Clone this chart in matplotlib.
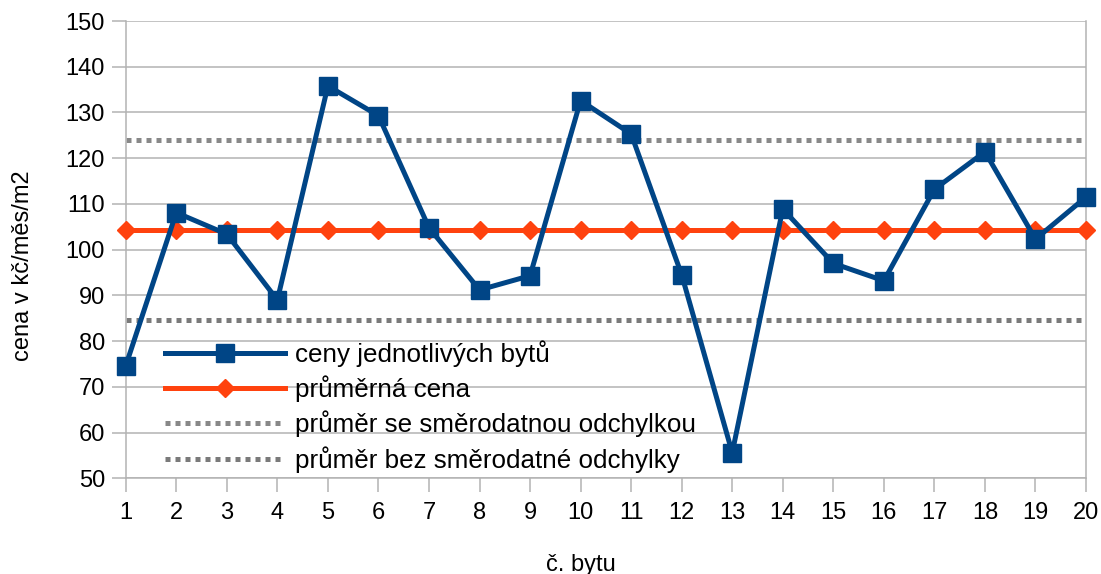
import matplotlib.pyplot as plt
from matplotlib.lines import Line2D

plt.rcParams["font.family"] = ["Liberation Sans", "DejaVu Sans"]

byty = list(range(1, 21))
ceny = [74.6, 108.1, 103.4, 89.0, 135.8, 129.3, 104.8, 91.2, 94.3, 132.6,
        125.3, 94.5, 55.6, 108.9, 97.0, 93.2, 113.2, 121.4, 102.3, 111.5]
prumer = 104.3
prumer_plus = 124.0
prumer_minus = 84.6

modra = "#004586"
oranzova = "#ff420e"
seda = "#888888"
seda_tmava = "#7a7a7a"
mrizka = "#b3b3b3"


def vykresli():
    fig = plt.figure(figsize=(11.01, 5.74), dpi=100)
    ax = fig.add_axes([0.1142, 0.1667, 0.8722, 0.7967])

    ax.plot(byty, [prumer_plus] * len(byty), color=seda, lw=3.6,
            ls=(0, (1, 1)), dash_capstyle="butt", zorder=2)
    ax.plot(byty, [prumer_minus] * len(byty), color=seda_tmava, lw=3.6,
            ls=(0, (1, 1)), dash_capstyle="butt", zorder=2)
    ax.plot(byty, [prumer] * len(byty), color=oranzova, lw=3.6,
            marker="D", markersize=9.5, zorder=3, clip_on=False)
    ax.plot(byty, ceny, color=modra, lw=3.6, marker="s", markersize=13.5,
            zorder=4, clip_on=False)

    ax.set_xlim(1, 20)
    ax.set_ylim(50, 150)
    ax.set_xticks(byty)
    ax.set_yticks(range(50, 151, 10))
    ax.grid(axis="y", color=mrizka, lw=1.1)
    ax.set_axisbelow(True)
    for s in ["left", "right", "bottom"]:
        ax.spines[s].set_color(mrizka)
        ax.spines[s].set_linewidth(1.1)
    ax.spines["top"].set_visible(False)
    ax.tick_params(axis="both", colors=mrizka, labelcolor="black",
                   labelsize=17, length=10, width=1.1)
    ax.tick_params(axis="x", pad=7)
    ax.tick_params(axis="y", pad=5)

    ax.set_xlabel("č. bytu", fontsize=17)
    ax.xaxis.set_label_coords(0.474, -0.165)
    ax.set_ylabel("cena v kč/měs/m2", fontsize=17)
    ax.yaxis.set_label_coords(-0.096, 0.465)

    handles = [
        Line2D([], [], color=modra, lw=3.6, marker="s", markersize=13.5),
        Line2D([], [], color=oranzova, lw=3.6, marker="D", markersize=9.5),
        Line2D([], [], color=seda, lw=3.6, ls=(0, (1, 1)), dash_capstyle="butt"),
        Line2D([], [], color=seda_tmava, lw=3.6, ls=(0, (1, 1)), dash_capstyle="butt"),
    ]
    labels = ["ceny jednotlivých bytů", "průměrná cena",
              "průměr se směrodatnou odchylkou", "průměr bez směrodatné odchylky"]
    ax.legend(handles, labels, loc="upper left", bbox_to_anchor=(0.041, 0.302),
              frameon=False, fontsize=18.7, handlelength=4.6, handletextpad=0.4,
              labelspacing=0.33, borderaxespad=0, borderpad=0)

    fig.savefig("out.png")
    plt.close(fig)


if __name__ == "__main__":
    vykresli()
